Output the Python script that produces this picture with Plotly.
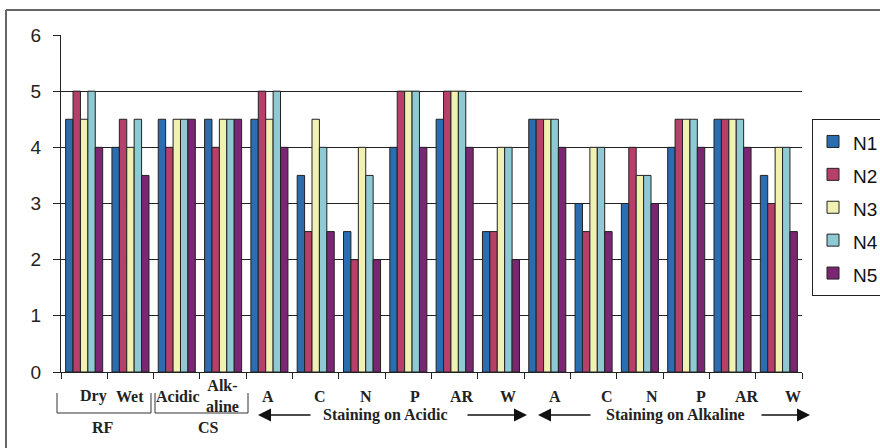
import plotly.graph_objects as go

# ---------------- data ----------------
categories = ["Dry", "Wet", "Acidic", "Alk-<br>aline", "A", "C", "N", "P", "AR", "W",
              "A", "C", "N", "P", "AR", "W"]
series_names = ["N1", "N2", "N3", "N4", "N5"]
N1 = [4.5, 4.0, 4.5, 4.5, 4.5, 3.5, 2.5, 4.0, 4.5, 2.5, 4.5, 3.0, 3.0, 4.0, 4.5, 3.5]
N2 = [5.0, 4.5, 4.0, 4.0, 5.0, 2.5, 2.0, 5.0, 5.0, 2.5, 4.5, 2.5, 4.0, 4.5, 4.5, 3.0]
N3 = [4.5, 4.0, 4.5, 4.5, 4.5, 4.5, 4.0, 5.0, 5.0, 4.0, 4.5, 4.0, 3.5, 4.5, 4.5, 4.0]
N4 = [5.0, 4.5, 4.5, 4.5, 5.0, 4.0, 3.5, 5.0, 5.0, 4.0, 4.5, 4.0, 3.5, 4.5, 4.5, 4.0]
N5 = [4.0, 3.5, 4.5, 4.5, 4.0, 2.5, 2.0, 4.0, 4.0, 2.0, 4.0, 2.5, 3.0, 4.0, 4.0, 2.5]
group_labels = ["RF", "CS"]
span_labels = ["Staining on Acidic", "Staining on Alkaline"]
y_ticks = [0, 1, 2, 3, 4, 5, 6]

# ---------------- style ----------------
colors = ["#2A6DB0", "#B6406A", "#F1F1B4", "#8FCAD4", "#7A2673"]
W, H = 880, 448
L, R, T, B = 61, 802, 35, 372  # plot area in page pixels

def px(x):
    return (x - L) / (R - L)

def py(y):
    return (B - y) / (B - T)

serif = "Liberation Serif"
sans = "Liberation Sans"

fig = go.Figure()
xs = list(range(len(categories)))
for name, vals, c in zip(series_names, [N1, N2, N3, N4, N5], colors):
    fig.add_trace(go.Bar(x=xs, y=vals, name='<span style="font-size:19px">%s</span>' % name,
                         marker=dict(color=c, line=dict(color="#222", width=1))))

# category label positions (page pixels, measured)
label_px = [93, 130, 178, 222, 268, 320, 366, 415, 462, 508, 555, 607, 652, 701, 747, 793]
annotations = []
for lab, xp in zip(categories, label_px):
    annotations.append(dict(x=px(xp), y=py(396), xref="paper", yref="paper", text="<b>%s</b>" % lab,
                            showarrow=False, font=dict(family=serif, size=16, color="#222"),
                            xanchor="center", yanchor="middle"))
for lab, xp in zip(group_labels, [103, 208]):
    annotations.append(dict(x=px(xp), y=py(427), xref="paper", yref="paper", text="<b>%s</b>" % lab,
                            showarrow=False, font=dict(family=serif, size=16, color="#222"),
                            xanchor="center", yanchor="middle"))
for lab, xp in zip(span_labels, [385, 675]):
    annotations.append(dict(x=px(xp), y=py(415), xref="paper", yref="paper", text="<b>%s</b>" % lab,
                            showarrow=False, font=dict(family=serif, size=16, color="#222"),
                            xanchor="center", yanchor="middle"))
for head, dx in [(258, 54), (527, -61), (538, 54), (810, -50)]:
    annotations.append(dict(x=px(head), y=py(415), xref="paper", yref="paper", text="",
                            showarrow=True, ax=dx, ay=0, arrowhead=2, arrowsize=2.0,
                            arrowwidth=1.3, arrowcolor="#111", standoff=0, startstandoff=0))

shapes = []
for x0, x1 in [(57, 151), (155, 248)]:
    shapes.append(dict(type="path", xref="paper", yref="paper",
                       path="M %f %f L %f %f L %f %f L %f %f" % (px(x0), py(393), px(x0), py(413),
                                                                px(x1), py(413), px(x1), py(393)),
                       line=dict(color="#333", width=1)))
# outer frame (top and left)
shapes.append(dict(type="line", xref="paper", yref="paper", x0=px(6), x1=px(890), y0=py(10), y1=py(10),
                   line=dict(color="#666", width=2)))
shapes.append(dict(type="line", xref="paper", yref="paper", x0=px(6), x1=px(6), y0=py(10), y1=py(460),
                   line=dict(color="#666", width=2)))

fig.update_layout(
    width=W, height=H,
    margin=dict(l=L, r=W - R, t=T, b=H - B, pad=0, autoexpand=False),
    paper_bgcolor="white", plot_bgcolor="white",
    barmode="group", bargap=0.2, bargroupgap=0,
    showlegend=True,
    legend=dict(x=px(812), y=py(119), xanchor="left", yanchor="top",
                font=dict(family=sans, size=23, color="#111"),
                bordercolor="#222", borderwidth=1, bgcolor="white",
                itemwidth=30, tracegroupgap=0),
    xaxis=dict(range=[-0.5, len(categories) - 0.5],
               tickvals=[i - 0.5 for i in range(len(categories) + 1)],
               showticklabels=False, ticks="outside", ticklen=6, tickcolor="#222",
               showline=True, linecolor="#222", linewidth=1, showgrid=False, zeroline=False),
    yaxis=dict(range=[0, 6], tickvals=y_ticks, ticks="outside", ticklen=7, tickcolor="#222",
               showline=True, linecolor="#222", linewidth=1, ticklabelstandoff=8,
               showgrid=True, gridcolor="#222", gridwidth=1, zeroline=False,
               tickfont=dict(family=sans, size=19, color="#222")),
    annotations=annotations, shapes=shapes,
)

fig.write_html("out.html", config={"displayModeBar": False},
               post_script="document.body.style.margin='0';")
